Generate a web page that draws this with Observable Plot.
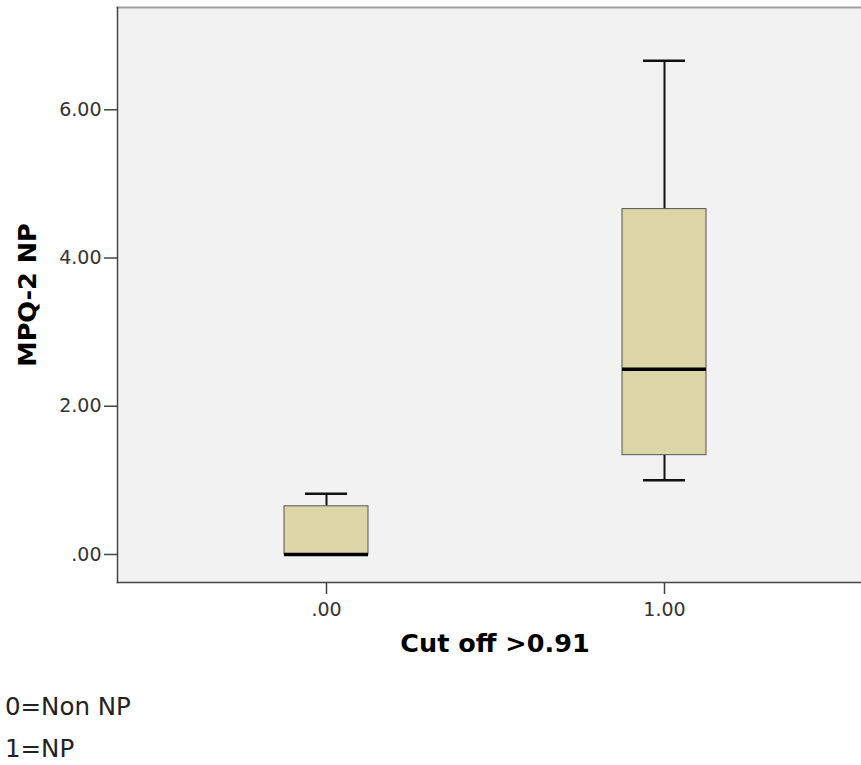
<!DOCTYPE html>
<html><head><meta charset="utf-8">
<script src="https://cdn.jsdelivr.net/npm/d3@7"></script>
<script src="https://cdn.jsdelivr.net/npm/@observablehq/plot@0.6"></script>
<style>
html,body{margin:0;padding:0;background:#fff;overflow:hidden;width:861px;height:765px}
#chart svg{display:block;overflow:hidden}
#caption{font-family:"DejaVu Sans",sans-serif;font-size:24.5px;color:#222;line-height:42px;margin:0;padding:0 0 0 5px}
</style></head><body>
<div id="chart"></div>
<div id="caption"></div>
<script>
const categories = [".00", "1.00"];
const whiskerLow = [0, 1.0];
const q1 = [0, 1.34];
const median = [0, 2.5];
const q3 = [0.65, 4.66];
const whiskerHigh = [0.82, 6.66];
const yTicks = [0, 2, 4, 6];
const yTickLabels = [".00", "2.00", "4.00", "6.00"];
const yDomain = [-0.378, 7.38];
const xTitle = "Cut off >0.91";
const yTitle = "MPQ-2 NP";
const captionLines = ["0=Non NP", "1=NP"];

const boxes = categories.map((c, i) => ({cat: c, lo: whiskerLow[i], q1: q1[i], med: median[i], q3: q3[i], hi: whiskerHigh[i]}));

const chart = Plot.plot({
  width: 861,
  height: 686,
  marginTop: 7,
  marginLeft: 117,
  marginRight: -11,
  marginBottom: 104,
  style: {fontFamily: "DejaVu Sans, sans-serif", color: "#333", background: "#fff", overflow: "hidden"},
  x: {domain: categories, paddingInner: 0.752, paddingOuter: 0.49, axis: null},
  y: {domain: yDomain, axis: null},
  marks: [
    Plot.frame({fill: "#f2f2f2"}),
    Plot.ruleX(boxes, {x: "cat", y1: "q3", y2: "hi", stroke: "#111", strokeWidth: 2}),
    Plot.ruleX(boxes, {x: "cat", y1: "lo", y2: "q1", stroke: "#111", strokeWidth: 2}),
    Plot.tickY(boxes, {x: "cat", y: "hi", stroke: "#111", strokeWidth: 2.5, insetLeft: 21, insetRight: 21}),
    Plot.tickY(boxes, {x: "cat", y: "lo", stroke: "#111", strokeWidth: 2.5, insetLeft: 21, insetRight: 21}),
    Plot.barY(boxes, {x: "cat", y1: "q1", y2: "q3", fill: "#dbd5a7", stroke: "#555", strokeWidth: 1}),
    Plot.tickY(boxes, {x: "cat", y: "med", stroke: "#000", strokeWidth: 3.5}),
    Plot.frame({anchor: "top", stroke: "#a0a0a0", strokeWidth: 2}),
    Plot.frame({anchor: "left", stroke: "#444", strokeWidth: 1.5}),
    Plot.frame({anchor: "bottom", stroke: "#444", strokeWidth: 1.5}),
    Plot.axisY(yTicks, {tickSize: 13, tickPadding: 3, fontSize: 19, stroke: "#444", strokeWidth: 1.5, fill: "#333",
      tickFormat: d => yTickLabels[yTicks.indexOf(d)], label: null}),
    Plot.axisX(categories, {tickSize: 12, tickPadding: 8, fontSize: 19, stroke: "#444", strokeWidth: 1.5, fill: "#333", label: null}),
    Plot.text([yTitle], {frameAnchor: "left", textAnchor: "middle", dx: -90, rotate: -90, fontSize: 25.5, fontWeight: "bold", fill: "#000"}),
    Plot.text([xTitle], {frameAnchor: "bottom", textAnchor: "middle", dy: 69, fontSize: 25.5, fontWeight: "bold", fill: "#000"})
  ]
});
document.getElementById("chart").appendChild(chart);
const cap = document.getElementById("caption");
captionLines.forEach(t => { const d = document.createElement("div"); d.textContent = t; cap.appendChild(d); });
</script>
</body></html>
